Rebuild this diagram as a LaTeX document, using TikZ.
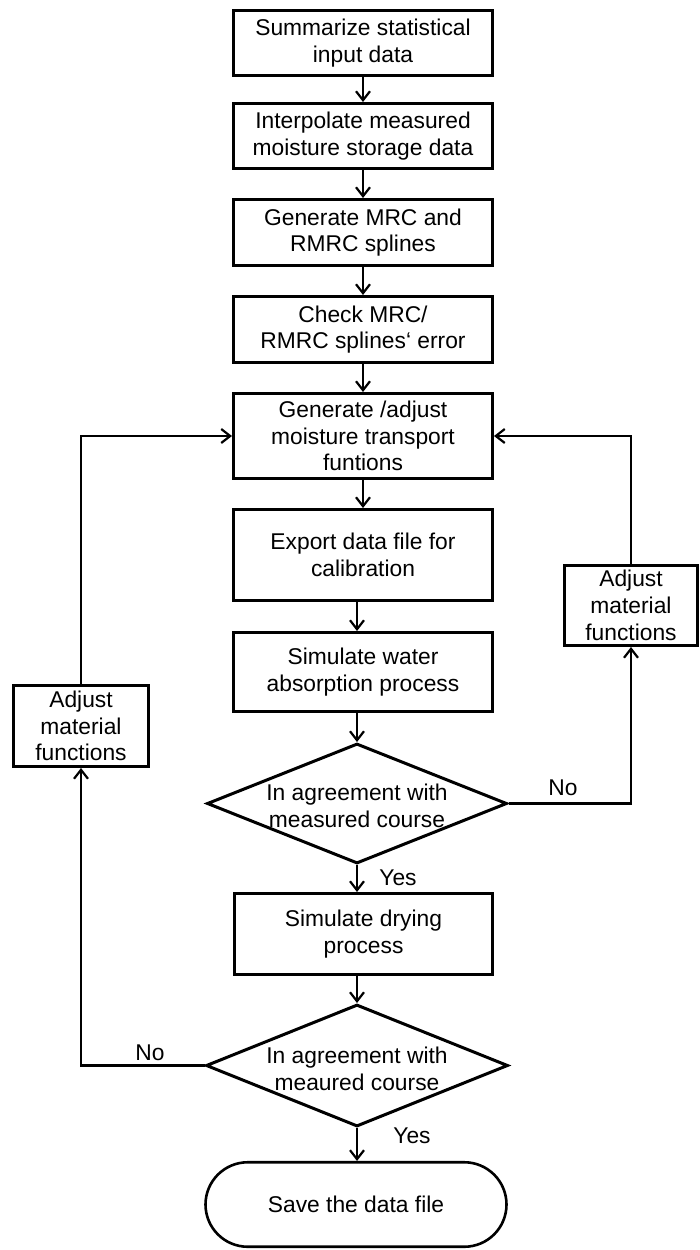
\documentclass[tikz,border=0pt]{standalone}
\usepackage{fontspec}
\setmainfont{Liberation Sans}
\usetikzlibrary{arrows.meta,shapes.geometric,shapes.misc}
\begin{document}
\begin{tikzpicture}[x=1pt,y=-1pt,
  every node/.style={font=\fontsize{22.8}{26.7}\selectfont, align=center, text=black},
  proc/.style={draw, line width=3pt, rectangle, minimum width=259pt, inner sep=0pt},
  sidebox/.style={draw, line width=3pt, rectangle, inner sep=0pt},
  decision/.style={draw, line width=3pt, diamond, inner sep=0pt},
  terminal/.style={draw, line width=2.6pt, rounded rectangle, inner sep=0pt,
    minimum width=301pt, minimum height=84.5pt},
  lbl/.style={inner sep=0pt},
  arr/.style={line width=2.2pt, -{Straight Barb[length=9pt,width=14pt,line width=2.2pt]}}]
\useasboundingbox (0,0) rectangle (700,1250);

% main column of process steps
\node[proc, minimum height=65pt] (b1) at (363,43) {Summarize statistical\\input data};
\node[proc, minimum height=65pt] (b2) at (363,136) {Interpolate measured\\moisture storage data};
\node[proc, minimum height=66pt] (b3) at (363,232.5) {Generate MRC and\\RMRC splines};
\node[proc, minimum height=66pt] (b4) at (363,329.5) {Check MRC/\\RMRC splines‘ error};
\node[proc, minimum height=85pt] (b5) at (363,436) {Generate /adjust\\moisture transport\\funtions};
\node[proc, minimum height=91pt] (b6) at (363,555) {Export data file for\\calibration};
\node[proc, minimum height=79pt] (b7) at (363,672) {Simulate water\\absorption process};

% first decision
\node[decision, minimum width=300pt, minimum height=120pt] (d1) at (357,803.5) {};
\node[lbl] (d1t) at (357,806) {In agreement with\\measured course};

\node[proc, minimum width=258pt, minimum height=81pt] (b8) at (363.5,934) {Simulate drying\\process};

% second decision
\node[decision, minimum width=302pt, minimum height=122pt] (d2) at (357,1065.5) {};
\node[lbl] (d2t) at (357,1069) {In agreement with\\meaured course};

\node[terminal] (term) at (356,1204.5) {Save the data file};

% correction steps at the sides
\node[sidebox, minimum width=135pt, minimum height=81pt] (la) at (81,726) {Adjust\\material\\functions};
\node[sidebox, minimum width=133pt, minimum height=80pt] (ra) at (631,605.5) {Adjust\\material\\functions};

% main flow
\draw[arr] (b1.south) -- (b2.north);
\draw[arr] (b2.south) -- (b3.north);
\draw[arr] (b3.south) -- (b4.north);
\draw[arr] (b4.south) -- (b5.north);
\draw[arr] (b5.south) -- (b6.north);
\draw[arr] (b6.south -| d1.north) -- (b7.north -| d1.north);
\draw[arr] (b7.south -| d1.north) -- (d1.north);
\draw[arr] (d1.south) -- (b8.north -| d1.south);
\draw[arr] (b8.south -| d2.north) -- (d2.north);
\draw[arr] (d2.south) -- (term.north -| d2.south);

% feedback loops
\draw[arr] (d1.east) -| (ra.south);
\draw[arr] (ra.north) |- (b5.east);
\draw[arr] (d2.west) -| (la.south);
\draw[arr] (la.north) |- (b5.west);

% branch labels
\node[lbl] (no1) at (563,788) {No};
\node[lbl] (yes1) at (398,878) {Yes};
\node[lbl] (no2) at (150,1053) {No};
\node[lbl] (yes2) at (412,1136) {Yes};
\end{tikzpicture}
\end{document}
